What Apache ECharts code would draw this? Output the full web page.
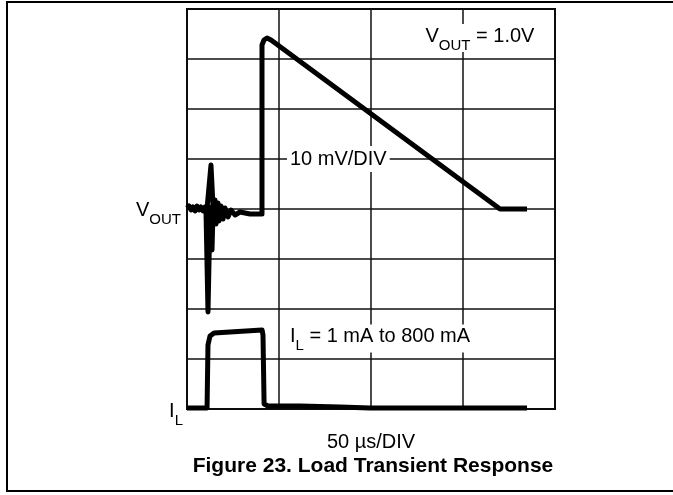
<!DOCTYPE html>
<html>
<head>
<meta charset="utf-8">
<script src="https://cdn.jsdelivr.net/npm/echarts@6/dist/echarts.min.js"></script>
<style>
  body { margin: 0; background: #fff; }
  #chart { width: 673px; height: 495px; }
</style>
</head>
<body>
<div id="chart"></div>
<script>
// time axis in µs, 50 µs/DIV
var timeTicks = [0, 50, 100, 150, 200];
// vertical axis counted in divisions
var divTicks = [0, 1, 2, 3, 4, 5, 6, 7, 8];

// V_OUT trace: time (µs) and level (DIV)
var voutTime  = [0, 1.09, 2.17, 3.26, 4.35, 5.43, 6.52, 7.61, 8.70, 9.78,
                 10.87, 13.04, 14.13, 10.33, 11.41, 12.5, 13.59, 14.13,
                 15.22, 15.76, 16.85, 17.39, 18.48, 19.57, 20.65, 22.28, 23.91, 26.09, 28.8, 34.24, 40.76,
                 40.76, 41.85, 43.48, 45.65, 170.1, 184.8];
var voutLevel = [4.02, 4.06, 3.98, 4.04, 3.96, 4.06, 3.98, 4.04, 3.96, 4.04,
                 4.0, 4.88, 4.06, 3.94, 1.94, 3.94, 3.18, 3.94,
                 4.18, 3.7, 4.12, 3.76, 4.06, 3.8, 4.02, 3.84, 3.98, 3.88, 3.94, 3.9, 3.9,
                 7.28, 7.38, 7.42, 7.38, 4.0, 4.0];

// I_L trace: time (µs) and level (DIV)
var ilTime  = [0, 10.9, 11.4, 12.5, 14.7, 40.8, 41.3, 41.9, 44.0, 61.4, 83.2, 99.5, 184.8];
var ilLevel = [0.02, 0.02, 1.28, 1.46, 1.52, 1.58, 1.48, 0.1, 0.06, 0.06, 0.04, 0.02, 0.02];

var FONT = '"Liberation Sans", Arial, sans-serif';

function pairs(xs, ys){
    var out = [];
    for(var i = 0; i < xs.length; i++){
        out.push([xs[i], ys[i]]);
    }
    return out;
}

var chart = echarts.init(document.getElementById('chart'));

var gridLine = { show: true, lineStyle: { color: '#111', width: 1.5 } };

chart.setOption({
    animation: false,
    grid: {
        left: 187, top: 9, width: 368, height: 400,
        show: true, borderColor: '#000', borderWidth: 2, backgroundColor: 'transparent'
    },
    xAxis: {
        type: 'value',
        min: timeTicks[0], max: timeTicks[timeTicks.length - 1],
        interval: timeTicks[1] - timeTicks[0],
        axisLine: { show: false }, axisTick: { show: false }, axisLabel: { show: false },
        splitLine: gridLine
    },
    yAxis: {
        type: 'value',
        min: divTicks[0], max: divTicks[divTicks.length - 1],
        interval: divTicks[1] - divTicks[0],
        axisLine: { show: false }, axisTick: { show: false }, axisLabel: { show: false },
        splitLine: gridLine
    },
    series: [
        {
            name: 'VOUT', type: 'line', data: pairs(voutTime, voutLevel),
            showSymbol: false, clip: false, z: 5,
            lineStyle: { color: '#000', width: 5, join: 'round' }
        },
        {
            name: 'IL', type: 'line', data: pairs(ilTime, ilLevel),
            showSymbol: false, clip: false, z: 5,
            lineStyle: { color: '#000', width: 5, join: 'round' }
        }
    ]
});

// labels anchored to the axes
function px(t, d){
    return chart.convertToPixel({ gridIndex: 0 }, [t, d]);
}

var subRich = {
    v: { fontSize: 20, fontFamily: FONT, lineHeight: 24, verticalAlign: 'top', fill: '#000' },
    s: { fontSize: 15, fontFamily: FONT, lineHeight: 15, padding: [12, 0, 0, 0], verticalAlign: 'top', fill: '#000' }
};

var pMv = px(50, 5);
var pVset = px(128, 7.3);
var pIl = px(50, 1.45);
var pVlab = px(0, 4);
var pIlab = px(0, 0);
var pMid = px(100, 0);

chart.setOption({
    graphic: [
        {
            type: 'polyline', z: 100, silent: true,
            shape: { points: [[673, 2], [7, 2], [7, 491], [673, 491]] },
            style: { stroke: '#000', lineWidth: 2, fill: null }
        },
        {
            type: 'text', z: 100, x: pMv[0] + 8, y: pMv[1],
            style: {
                text: '10 mV/DIV', font: '20px ' + FONT, fill: '#000',
                align: 'left', verticalAlign: 'middle',
                backgroundColor: '#fff', padding: [3, 3]
            }
        },
        {
            type: 'text', z: 100, x: pVset[0], y: pVset[1] - 20,
            style: {
                text: '{v|V}{s|OUT}{v| = 1.0V}', rich: subRich,
                align: 'left', verticalAlign: 'top',
                backgroundColor: '#fff', padding: [2, 3]
            }
        },
        {
            type: 'text', z: 100, x: pIl[0] + 8, y: pIl[1] - 12,
            style: {
                text: '{v|I}{s|L}{v| = 1 mA to 800 mA}', rich: subRich,
                align: 'left', verticalAlign: 'top',
                backgroundColor: '#fff', padding: [2, 3]
            }
        },
        {
            type: 'text', z: 100, x: pVlab[0] - 6, y: pVlab[1] - 9,
            style: {
                text: '{v|V}{s|OUT}', rich: subRich,
                align: 'right', verticalAlign: 'top'
            }
        },
        {
            type: 'text', z: 100, x: pIlab[0] - 4, y: pIlab[1] - 8,
            style: {
                text: '{v|I}{s|L}', rich: subRich,
                align: 'right', verticalAlign: 'top'
            }
        },
        {
            type: 'text', z: 100, x: pMid[0], y: pMid[1] + 33,
            style: {
                text: '50 µs/DIV', font: '20px ' + FONT, fill: '#000',
                align: 'center', verticalAlign: 'middle'
            }
        },
        {
            type: 'text', z: 100, x: pMid[0] + 2, y: pMid[1] + 57,
            style: {
                text: 'Figure 23. Load Transient Response', font: 'bold 21px ' + FONT, fill: '#000',
                align: 'center', verticalAlign: 'middle'
            }
        }
    ]
});
</script>
</body>
</html>
